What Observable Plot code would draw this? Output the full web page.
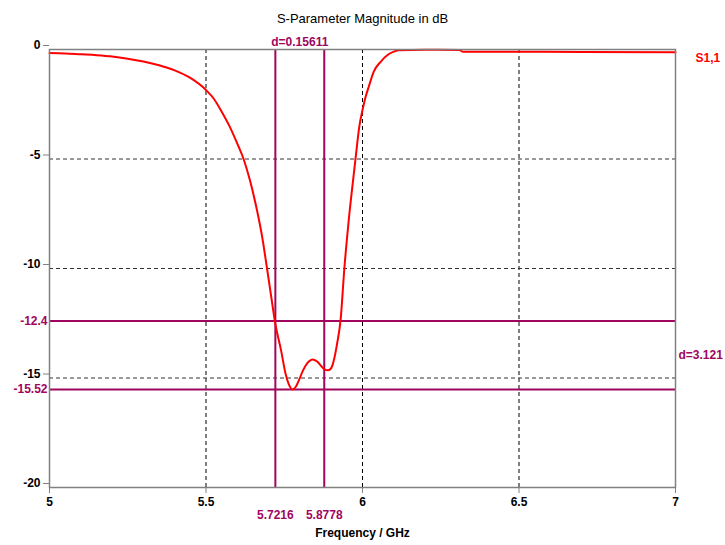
<!DOCTYPE html>
<html><head><meta charset="utf-8">
<script src="https://cdn.jsdelivr.net/npm/d3@7"></script>
<script src="https://cdn.jsdelivr.net/npm/@observablehq/plot@0.6"></script>
<style>body{margin:0;background:#fff} svg{display:block}</style>
</head><body><div id="chart"></div>
<script>
const freq = [5.0, 5.05, 5.1, 5.15, 5.2, 5.25, 5.3, 5.35, 5.4, 5.45, 5.5, 5.525, 5.55, 5.575, 5.6, 5.62, 5.64, 5.66, 5.68, 5.695, 5.708, 5.72, 5.74, 5.755, 5.765, 5.776, 5.787, 5.797, 5.81, 5.825, 5.84, 5.855, 5.868, 5.878, 5.89, 5.9, 5.91, 5.918, 5.93, 5.942, 5.956, 5.97, 5.978, 5.99, 6.0, 6.01, 6.02, 6.036, 6.058, 6.08, 6.1, 6.116, 6.2, 6.31, 6.32, 6.5, 6.7, 7.0];
const s11 = [-0.16, -0.18, -0.22, -0.26, -0.32, -0.42, -0.55, -0.72, -0.95, -1.3, -1.85, -2.25, -2.84, -3.5, -4.3, -5.0, -5.95, -7.15, -8.6, -10.0, -11.25, -12.4, -13.75, -14.85, -15.3, -15.52, -15.4, -15.1, -14.65, -14.3, -14.15, -14.25, -14.45, -14.6, -14.65, -14.55, -14.1, -13.5, -12.35, -10.0, -7.8, -5.96, -4.95, -3.5, -2.76, -2.16, -1.7, -1.01, -0.56, -0.25, -0.1, -0.03, -0.01, -0.02, -0.1, -0.1, -0.11, -0.12];
const xTicks = [5, 5.5, 6, 6.5, 7];
const yTicks = [0, -5, -10, -15, -20];
const markerX = [5.7216, 5.8778];
const markerY = [-12.4, -15.52];
const deltaXLabel = "d=0.15611";
const deltaYLabel = "d=3.121";
const traceName = "S1,1";
const titleText = "S-Parameter Magnitude in dB";
const xLabel = "Frequency / GHz";

const data = freq.map((f, i) => ({f, db: s11[i]}));
const MC = "#a0065f";
const font = "'Liberation Sans', Arial, sans-serif";

const chart = Plot.plot({
  width: 725, height: 545,
  marginLeft: 49, marginRight: 50, marginTop: 49, marginBottom: 58,
  style: {fontFamily: font, fontSize: "12px", fontWeight: "bold", background: "#fff", color: "#000", overflow: "visible"},
  x: {domain: [5, 7]},
  y: {domain: [-20, 0]},
  marks: [
    Plot.gridX(xTicks.slice(1, -1), {stroke: "#000", strokeOpacity: 1, strokeDasharray: "4,3"}),
    Plot.gridY(yTicks.slice(1, -1), {stroke: "#333", strokeOpacity: 1, strokeDasharray: "4,3"}),
    Plot.ruleX(markerX, {x: d => d, stroke: MC, strokeWidth: 2}),
    Plot.ruleY(markerY, {y: d => d, stroke: MC, strokeWidth: 2}),
    Plot.line(data, {x: "f", y: "db", stroke: "#ff0000", strokeWidth: 2, curve: "monotone-x"}),
    Plot.frame({stroke: "#808080", strokeWidth: 1.5}),
    Plot.axisX(xTicks, {tickSize: 6, tickPadding: 4, stroke: "#808080", label: null, tickFormat: d => String(d)}),
    Plot.axisY(yTicks, {tickSize: 6, tickPadding: 3, stroke: "#808080", label: null, dy: -4, tickFormat: d => String(d)}),
    Plot.text(markerX, {x: d => d, frameAnchor: "bottom", lineAnchor: "middle", dy: 28, text: d => String(d), fill: MC}),
    Plot.text(markerY, {y: d => d, frameAnchor: "left", textAnchor: "end", dx: -2, text: d => String(d), fill: MC}),
    Plot.text([deltaXLabel], {x: (markerX[0] + markerX[1]) / 2, frameAnchor: "top", lineAnchor: "middle", dy: -7, fill: MC}),
    Plot.text([deltaYLabel], {y: (markerY[0] + markerY[1]) / 2, frameAnchor: "right", textAnchor: "start", dx: 3, fill: MC}),
    Plot.text([traceName], {y: s11[s11.length - 1], frameAnchor: "right", textAnchor: "start", dx: 20, dy: 6, fill: "#ff0000"}),
    Plot.text([titleText], {frameAnchor: "top", lineAnchor: "middle", dy: -31, fontSize: 13, fontWeight: "normal", fill: "#000"}),
    Plot.text([xLabel], {frameAnchor: "bottom", lineAnchor: "middle", dy: 46, fill: "#000"})
  ]
});
document.getElementById("chart").appendChild(chart);
</script>
</body></html>
